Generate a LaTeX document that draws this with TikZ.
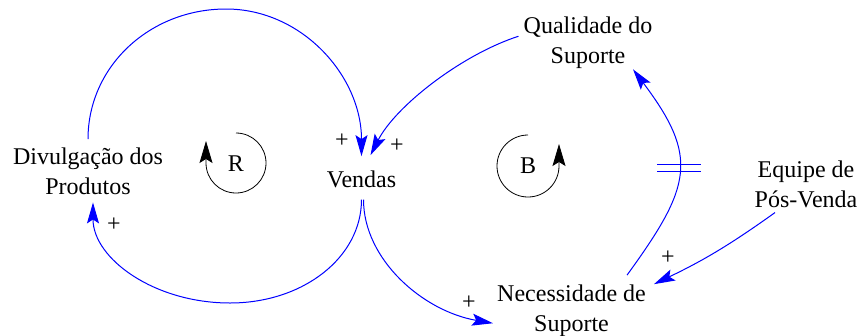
\documentclass[tikz,border=0pt]{standalone}
\usepackage{fontspec}
\setmainfont{Liberation Serif}
\usetikzlibrary{arrows.meta, calc}
\tikzset{
  var/.style={inner sep=0pt, align=center, font=\fontsize{24}{30}\selectfont},
  pol/.style={inner sep=0pt, font=\fontsize{24}{30}\selectfont},
  link/.style={draw=blue, line width=1pt,
               -{Stealth[length=21pt, width=12pt, inset=4pt]}},
  dly/.style={draw=blue, line width=1pt},
  loopmark/.style={draw=black, line width=0.8pt,
                   -{Stealth[length=22pt, width=13pt, inset=4pt]}},
  looplbl/.style={inner sep=0pt, font=\fontsize{24}{30}\selectfont}
}

\begin{document}
\begin{tikzpicture}[x=1pt, y=1pt]
  \useasboundingbox (0,0) rectangle (865,-335);
  % variaveis (base = ultima linha)
  \node[var, anchor=base] (divul) at (88,-194) {Divulgação dos\\Produtos};
  \node[var, anchor=base] (vendas) at (361.5,-187) {Vendas};
  \node[var, anchor=base] (qual) at (588,-63) {Qualidade do\\Suporte};
  \node[var, anchor=base] (equipe) at (806,-207) {Equipe de\\Pós-Venda};
  \node[var, anchor=base] (necess) at (571.5,-331) {Necessidade de\\Suporte};
  \coordinate (topoR) at (226,-9);
  \coordinate (fundoR) at (230,-303);
  % laco R
  \draw[link] ([yshift=8]divul.north) .. controls +(0,73) and +(-76,0) .. (topoR)
    .. controls +(76,0) and +(0,80) .. ([yshift=14]vendas.north);
  \draw[link] ([yshift=-12]vendas.south) .. controls +(0,-58) and +(73,0) .. (fundoR)
    .. controls +(-76,0) and +(0,-56) .. ([xshift=5,yshift=-8]divul.south);
  % laco B
  \draw[link] ([xshift=-5,yshift=6]qual.west) .. controls +(198:60) and +(63:55) .. ([xshift=9,yshift=15]vendas.north);
  \draw[link] ([xshift=2,yshift=-12]vendas.south) .. controls +(0,-60) and +(-70,12) .. ([xshift=-4,yshift=-13]necess.west);
  \draw[link] ([xshift=-19,yshift=9]necess.north east) .. controls +(54:110) and +(-53:110) .. coordinate[pos=0.52] (atraso) ([xshift=45,yshift=-1]qual.south);
  \draw[dly] ([xshift=-22,yshift=3.5]atraso) -- ++(44,0);
  \draw[dly] ([xshift=-22,yshift=-3.5]atraso) -- ++(44,0);
  \draw[link] ([xshift=-31,yshift=-5]equipe.south) to[bend left=5] ([xshift=8]necess.north east);
  % polaridades
  \node[pol] (p1) at (342,-141) {+};
  \node[pol] (p2) at (397,-146) {+};
  \node[pol] (p3) at (114,-225) {+};
  \node[pol] (p4) at (469,-303) {+};
  \node[pol] (p5) at (668,-258) {+};
  % identificadores dos lacos
  \node[looplbl] (loopR) at (236,-164) {R};
  \draw[loopmark] ([yshift=31]loopR.center) arc[start angle=90, end angle=-180, radius=30] -- ++(0,22);
  \node[looplbl] (loopB) at (528,-166) {B};
  \draw[loopmark] ([yshift=31]loopB.center) arc[start angle=90, end angle=360, radius=31] -- ++(0,22);
\end{tikzpicture}
\end{document}
